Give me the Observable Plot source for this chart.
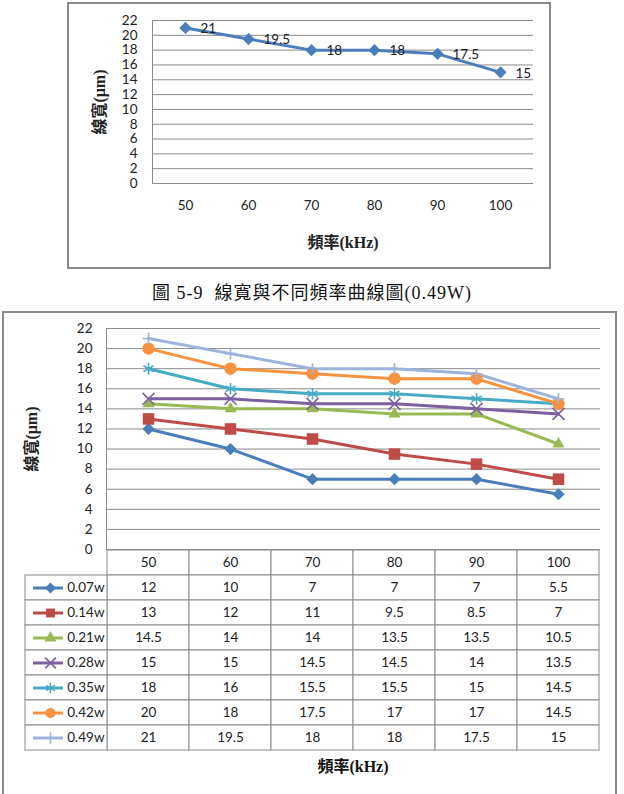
<!DOCTYPE html>
<html>
<head>
<meta charset="utf-8">
<script src="https://cdn.jsdelivr.net/npm/d3@7"></script>
<script src="https://cdn.jsdelivr.net/npm/@observablehq/plot@0.6"></script>
<style>
  body { margin: 0; background: #fff; }
  #page { position: relative; width: 624px; height: 794px; overflow: hidden; background: #fff; }
  .frame { position: absolute; border: 2px solid #8a8a8a; box-sizing: border-box; }
  .title { font-family: "Liberation Serif", "Noto Sans CJK TC", serif; font-weight: bold; font-size: 16px; color: #111; white-space: pre; }
  .caption { font-family: "Liberation Serif", "Noto Sans CJK TC", serif; font-size: 18px; color: #111; white-space: pre; letter-spacing: 1px; }
</style>
</head>
<body>
<div id="page">
  <div class="frame" style="left:67px; top:2px; width:484px; height:267px;"></div>
  <div class="frame" style="left:2px; top:311px; width:615px; height:520px;"></div>
</div>
<script>
// Frequency categories (kHz) and line-width series (μm) per laser power
const frequencies = [50, 60, 70, 80, 90, 100];
const seriesNames = ["0.07w", "0.14w", "0.21w", "0.28w", "0.35w", "0.42w", "0.49w"];
const width007 = [12, 10, 7, 7, 7, 5.5];
const width014 = [13, 12, 11, 9.5, 8.5, 7];
const width021 = [14.5, 14, 14, 13.5, 13.5, 10.5];
const width028 = [15, 15, 14.5, 14.5, 14, 13.5];
const width035 = [18, 16, 15.5, 15.5, 15, 14.5];
const width042 = [20, 18, 17.5, 17, 17, 14.5];
const width049 = [21, 19.5, 18, 18, 17.5, 15];
const yTicks = [0, 2, 4, 6, 8, 10, 12, 14, 16, 18, 20, 22];
const titleX = "頻率(kHz)";
const titleY = "線寬(μm)";
const captionText = "圖 5-9  線寬與不同頻率曲線圖(0.49W)";

// Styling
const seriesColors = ["#4A7EBB", "#BE4B48", "#98B954", "#7D60A0", "#46AAC5", "#F69240", "#9DB3DB"];
const seriesSymbols = ["diamond2", "square", "triangle", "times", "asterisk", "circle", "plus"];
const seriesRadii = [5.5, 6.5, 4.5, 5.5, 5.5, 6.2, 3.8];
const strokedSymbols = new Set(["times", "asterisk", "plus"]);
const gridColor = "#8a8a8a";
const tickFont = "Lato, 'Open Sans', sans-serif";
const titleFont = "'Liberation Serif', 'Noto Sans CJK TC', serif";
const textColor = "#222";

const seriesValues = [width007, width014, width021, width028, width035, width042, width049];
const rows = seriesNames.flatMap((s, i) =>
  frequencies.map((f, j) => ({series: s, freq: f, value: seriesValues[i][j]})));
const topRows = frequencies.map((f, j) => ({freq: f, value: width049[j]}));

const page = document.getElementById("page");
function place(node, left, top) {
  node.style.position = "absolute";
  node.style.left = left + "px";
  node.style.top = top + "px";
  page.appendChild(node);
}

function markerOptions(i, extra) {
  const sym = seriesSymbols[i];
  const o = {symbol: sym, r: seriesRadii[i], ...extra};
  if (strokedSymbols.has(sym)) { o.stroke = seriesColors[i]; o.fill = "none"; o.strokeWidth = 1.6; }
  else { o.fill = seriesColors[i]; o.stroke = "none"; }
  return o;
}

// ---- Single-series chart (0.49W) ----
const topChart = Plot.plot({
  width: 484, height: 267,
  marginLeft: 85, marginRight: 18, marginTop: 18, marginBottom: 86,
  style: {background: "transparent", overflow: "visible", color: textColor},
  x: {type: "point", domain: frequencies, padding: 0.5},
  y: {domain: [0, 22]},
  marks: [
    Plot.gridY(yTicks, {stroke: gridColor, strokeOpacity: 1}),
    Plot.frame({anchor: "left", stroke: gridColor}),
    Plot.axisY(yTicks, {tickSize: 0, tickPadding: 15, label: null, fontSize: 13.5, fontFamily: tickFont}),
    Plot.axisY({ticks: [], label: titleY, labelAnchor: "center", labelOffset: 59, labelArrow: "none",
      fontSize: 16, fontWeight: "bold", fontFamily: titleFont}),
    Plot.axisX({tickSize: 0, tickPadding: 17, label: null, fontSize: 13.5, fontFamily: tickFont}),
    Plot.axisX({ticks: [], label: titleX, labelAnchor: "center", labelOffset: 64,
      fontSize: 16, fontWeight: "bold", fontFamily: titleFont}),
    Plot.line(topRows, {x: "freq", y: "value", stroke: seriesColors[0], strokeWidth: 3}),
    Plot.dot(topRows, markerOptions(0, {x: "freq", y: "value"})),
    Plot.text(topRows, {x: "freq", y: "value", text: d => String(d.value), textAnchor: "start",
      dx: 15, dy: 1, fontSize: 13.5, fontFamily: tickFont, fill: textColor})
  ]
});
place(topChart, 67, 2);

const caption = document.createElement("div");
caption.className = "caption";
caption.textContent = captionText;
place(caption, 152, 278);

// ---- All-series chart ----
const mainChart = Plot.plot({
  width: 624, height: 240,
  marginLeft: 106, marginRight: 24, marginTop: 16, marginBottom: 3,
  style: {background: "transparent", overflow: "visible", color: textColor},
  x: {type: "point", domain: frequencies, padding: 0.5, axis: null},
  y: {domain: [0, 22]},
  color: {domain: seriesNames, range: seriesColors},
  marks: [
    Plot.gridY(yTicks, {stroke: gridColor, strokeOpacity: 1}),
    Plot.frame({anchor: "left", stroke: gridColor}),
    Plot.axisY(yTicks, {tickSize: 0, tickPadding: 14, label: null, fontSize: 13.5, fontFamily: tickFont}),
    Plot.axisY({ticks: [], label: titleY, labelAnchor: "center", labelOffset: 81, labelArrow: "none",
      fontSize: 16, fontWeight: "bold", fontFamily: titleFont}),
    Plot.line(rows, {x: "freq", y: "value", z: "series", stroke: "series", strokeWidth: 3}),
    ...seriesNames.map((s, i) =>
      Plot.dot(rows.filter(d => d.series === s), markerOptions(i, {x: "freq", y: "value"})))
  ]
});
place(mainChart, 0, 312);

// ---- Data table beneath the chart, with legend keys ----
const keyColumn = "key";
const headerRow = "freq";
const columns = [keyColumn, ...frequencies.map(String)];
const tableRows = [headerRow, ...seriesNames];
const headerCells = frequencies.map(f => ({col: String(f), row: headerRow, label: String(f)}));
const valueCells = rows.map(d => ({col: String(d.freq), row: d.series, label: String(d.value)}));
const keyCells = seriesNames.map(s => ({col: keyColumn, row: s, label: s}));
const allCells = [...headerCells, ...valueCells, ...keyCells];

const table = Plot.plot({
  width: 624, height: 203,
  marginLeft: 24, marginRight: 24, marginTop: 0, marginBottom: 1,
  style: {background: "transparent", overflow: "visible", color: textColor},
  x: {type: "band", domain: columns, padding: 0, axis: null},
  y: {type: "band", domain: tableRows, padding: 0, axis: null},
  marks: [
    Plot.cell(allCells, {x: "col", y: "row", fill: "white", stroke: gridColor, inset: 0}),
    Plot.text([...headerCells, ...valueCells], {x: "col", y: "row", text: "label",
      fontSize: 13.5, fontFamily: tickFont, fill: textColor}),
    ...seriesNames.map((s, i) =>
      Plot.tickY(keyCells.filter(d => d.row === s), {x: "col", y: "row", stroke: seriesColors[i],
        strokeWidth: 3, insetLeft: 8, insetRight: 44})),
    ...seriesNames.map((s, i) =>
      Plot.dot(keyCells.filter(d => d.row === s), markerOptions(i, {x: "col", y: "row", dx: -16,
        r: Math.min(seriesRadii[i], 5)}))),
    Plot.text(keyCells, {x: "col", y: "row", text: "label", textAnchor: "end", dx: 38,
      fontSize: 13.5, fontFamily: tickFont, fill: textColor})
  ]
});
place(table, 0, 549);

const xTitle = document.createElement("div");
xTitle.className = "title";
xTitle.textContent = titleX;
xTitle.style.width = "200px";
xTitle.style.textAlign = "center";
place(xTitle, 253, 753);
</script>
</body>
</html>
